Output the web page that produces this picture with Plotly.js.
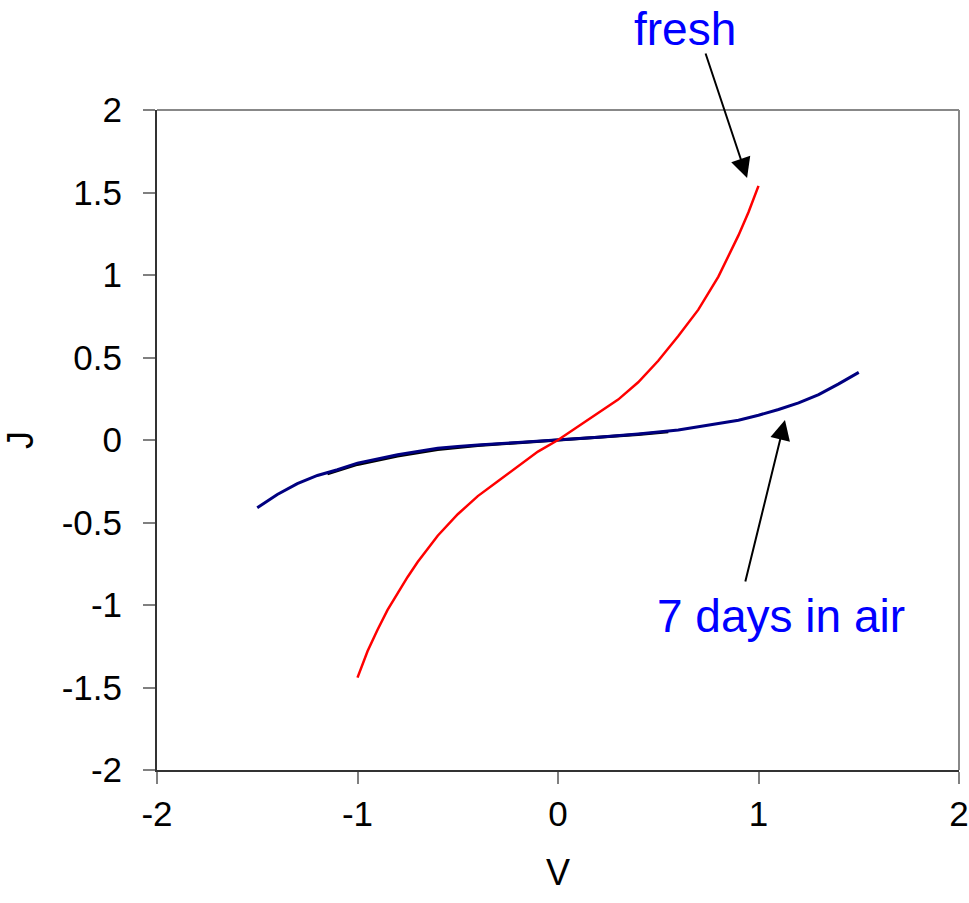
<!DOCTYPE html>
<html>
<head>
<meta charset="utf-8">
<script src="https://cdn.plot.ly/plotly-3.0.1.min.js"></script>
<style>html,body{margin:0;padding:0;background:#fff;}#chart{width:969px;height:903px;}</style>
</head>
<body>
<div id="chart"></div>
<script>
// Fresh device (red)
var V_fresh = [-1.0, -0.95, -0.9, -0.85, -0.8, -0.75, -0.7, -0.65, -0.6, -0.5, -0.4, -0.3, -0.2, -0.1, 0, 0.1, 0.2, 0.3, 0.4, 0.5, 0.6, 0.7, 0.8, 0.85, 0.9, 0.95, 1.0];
var J_fresh = [-1.44, -1.28, -1.15, -1.03, -0.93, -0.83, -0.74, -0.66, -0.58, -0.45, -0.34, -0.25, -0.16, -0.07, 0.0, 0.08, 0.16, 0.245, 0.35, 0.48, 0.63, 0.79, 0.99, 1.11, 1.24, 1.38, 1.54];
// 7 days in air (navy)
var V_aged = [-1.5, -1.45, -1.4, -1.3, -1.2, -1.1, -1.0, -0.9, -0.8, -0.7, -0.6, -0.5, -0.4, -0.2, 0, 0.2, 0.4, 0.6, 0.8, 0.9, 1.0, 1.1, 1.2, 1.3, 1.4, 1.5];
var J_aged = [-0.41, -0.37, -0.33, -0.265, -0.215, -0.18, -0.14, -0.115, -0.09, -0.07, -0.05, -0.04, -0.03, -0.015, 0.0, 0.017, 0.037, 0.06, 0.1, 0.12, 0.15, 0.185, 0.225, 0.275, 0.34, 0.41];
// overlapping black trace
var V_black = [-1.15, -1.0, -0.8, -0.6, -0.4, -0.2, 0, 0.2, 0.4, 0.55];
var J_black = [-0.205, -0.148, -0.097, -0.057, -0.034, -0.017, 0.0, 0.015, 0.034, 0.05];

var xTicks = [-2, -1, 0, 1, 2];
var yTicks = [-2, -1.5, -1, -0.5, 0, 0.5, 1, 1.5, 2];

var traces = [
  {x: V_black, y: J_black, mode: 'lines', line: {color: '#000000', width: 3}, hoverinfo: 'skip'},
  {x: V_aged, y: J_aged, mode: 'lines', line: {color: '#000080', width: 3}, hoverinfo: 'skip'},
  {x: V_fresh, y: J_fresh, mode: 'lines', line: {color: '#ff0000', width: 2.5}, hoverinfo: 'skip'}
];

var tickFont = {family: 'Liberation Sans, Arial, sans-serif', size: 35, color: '#000'};

var layout = {
  width: 969, height: 903,
  margin: {l: 157, r: 10, t: 110, b: 133},
  paper_bgcolor: '#fff', plot_bgcolor: '#fff',
  showlegend: false,
  xaxis: {
    range: [-2, 2], tickvals: xTicks, ticktext: xTicks.map(String),
    ticks: 'outside', ticklen: 12, tickwidth: 2, tickcolor: '#808080',
    showline: true, linecolor: '#333', linewidth: 2,
    showgrid: false, zeroline: false, tickfont: tickFont,
    title: {text: 'V', font: {family: 'Liberation Sans, Arial, sans-serif', size: 36, color: '#000'}, standoff: 28}
  },
  yaxis: {
    range: [-2, 2], tickvals: yTicks, ticktext: yTicks.map(String),
    ticks: 'outside', ticklen: 12, tickwidth: 2, tickcolor: '#808080',
    showline: true, linecolor: '#333', linewidth: 2,
    showgrid: false, zeroline: false, tickfont: tickFont, ticklabelstandoff: 14,
    title: {text: 'J', font: {family: 'Liberation Sans, Arial, sans-serif', size: 36, color: '#000'}, standoff: 20}
  },
  shapes: [
    {type: 'line', xref: 'paper', yref: 'paper', x0: 0, x1: 1, y0: 1, y1: 1, line: {color: '#888', width: 2}},
    {type: 'line', xref: 'paper', yref: 'paper', x0: 1, x1: 1, y0: 0, y1: 1, line: {color: '#888', width: 2}}
  ],
  annotations: [
    {text: 'fresh', xref: 'paper', yref: 'paper', x: 0.658, y: 1.1227, xanchor: 'center', yanchor: 'middle', showarrow: false,
     font: {family: 'Liberation Sans, Arial, sans-serif', size: 46, color: '#0000ff'}},
    {text: '7 days in air', xref: 'paper', yref: 'paper', x: 0.778, y: 0.233, xanchor: 'center', yanchor: 'middle', showarrow: false,
     font: {family: 'Liberation Sans, Arial, sans-serif', size: 46, color: '#0000ff'}},
    {text: '', x: 0.943, y: 1.588, xref: 'x', yref: 'y', ax: -42, ay: -126, showarrow: true,
     arrowhead: 2, arrowsize: 2, arrowwidth: 2, arrowcolor: '#000', standoff: 0},
    {text: '', x: 1.132, y: 0.121, xref: 'x', yref: 'y', ax: -40, ay: 163, showarrow: true,
     arrowhead: 2, arrowsize: 2, arrowwidth: 2, arrowcolor: '#000', standoff: 0}
  ]
};

Plotly.newPlot('chart', traces, layout, {staticPlot: true, displayModeBar: false});
</script>
</body>
</html>
